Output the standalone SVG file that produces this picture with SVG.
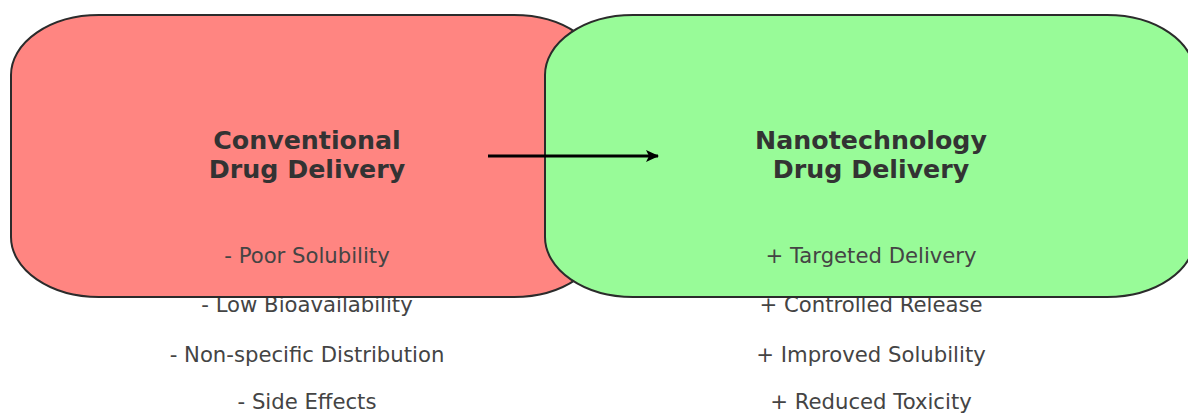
<svg xmlns="http://www.w3.org/2000/svg" width="1188" height="414" viewBox="0 0 1188 414">
<style>
.box{stroke:#2b2b2b;stroke-width:2}
.red{fill:#ff8581}
.green{fill:#98fb98}
.title{font-family:"DejaVu Sans",sans-serif;font-weight:bold;font-size:25.3px;fill:#333;text-anchor:middle}
.item{font-family:"DejaVu Sans",sans-serif;font-size:21.2px;fill:#444;text-anchor:middle}
</style>
<defs>
<marker id="ah" markerWidth="14" markerHeight="14" refX="12" refY="7" orient="auto" markerUnits="userSpaceOnUse">
<path d="M0,1 L13,7 L0,13 L3,7 Z" fill="#000"/>
</marker>
</defs>
<g id="conventional">
<text class="item" x="307" y="312">- Low Bioavailability</text>
<text class="item" x="307" y="362">- Non-specific Distribution</text>
<text class="item" x="307" y="409">- Side Effects</text>
<rect class="box red" x="11" y="15" width="591" height="282" rx="88" ry="60"/>
<text class="title" x="307" y="149">Conventional</text>
<text class="title" x="307" y="178">Drug Delivery</text>
<text class="item" x="307" y="263">- Poor Solubility</text>
</g>
<g id="nanotechnology">
<text class="item" x="871" y="312">+ Controlled Release</text>
<text class="item" x="871" y="362">+ Improved Solubility</text>
<text class="item" x="871" y="409">+ Reduced Toxicity</text>
<rect class="box green" x="545" y="15" width="650" height="282" rx="88" ry="60"/>
<text class="title" x="871" y="149">Nanotechnology</text>
<text class="title" x="871" y="178">Drug Delivery</text>
<text class="item" x="871" y="263">+ Targeted Delivery</text>
</g>
<g id="connectors">
<line x1="488" y1="156" x2="658" y2="156" stroke="#000" stroke-width="3" marker-end="url(#ah)"/>
</g>
</svg>
